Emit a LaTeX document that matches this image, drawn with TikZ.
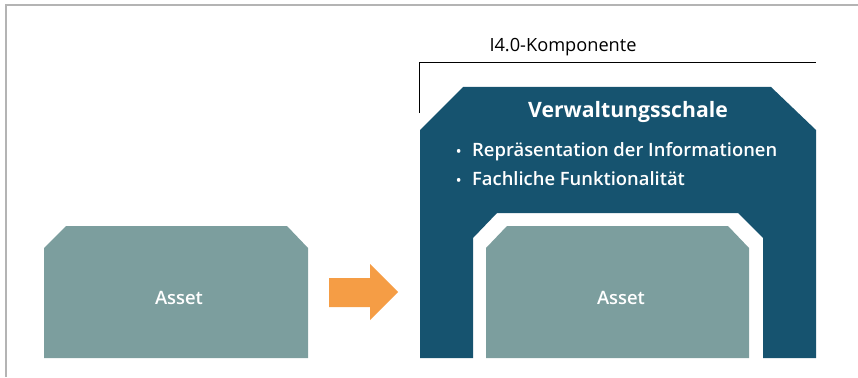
\documentclass[tikz,border=0pt]{standalone}
\usepackage{fontspec}
\setmainfont{Open Sans}
\IfFontExistsTF{Open Sans SemiBold}
  {\newfontfamily\semifont{Open Sans SemiBold}}
  {\IfFontExistsTF{Open Sans Semibold}
    {\newfontfamily\semifont{Open Sans Semibold}}
    {\newfontfamily\semifont{Open Sans}}}
\newcommand{\smallbullet}{\makebox[16pt][l]{\fontsize{14}{14}\selectfont\textbullet}}
\definecolor{shell}{HTML}{16536F}
\definecolor{assetc}{HTML}{7C9E9E}
\definecolor{arrowc}{HTML}{F59D45}
\definecolor{framec}{HTML}{B4B4B4}
\begin{document}
\begin{tikzpicture}[x=1pt,y=-1pt,
  whitetext/.style={text=white,inner sep=0pt,anchor=center},
  semi/.style={font=\semifont\fontsize{18.4}{22}\selectfont},
  lbl/.style={font=\fontsize{18.2}{22}\selectfont,inner sep=0pt}]
\useasboundingbox (0,0) rectangle (858,377);
% frame (top and left only)
\draw[framec,line width=2pt] (6,377) -- (6,5) -- (858,5);

% bracket for the component
\coordinate (bl) at (419.5,113);
\coordinate (bc) at (419.5,62);
\coordinate (br) at (816,62);
\draw[black,line width=0.8pt] (bl) -- (bc) -- (br);
\node[lbl,anchor=center] (komp) at (563,47) {I4.0-Komponente};

% administration shell
\fill[shell] (420,358) -- (420,130) -- (463,87) -- (771,87) -- (816,130) -- (816,358)
  -- (763,358) -- (763,238) -- (738,213) -- (497,213) -- (473,238) -- (473,358) -- cycle;
\node[whitetext,font=\bfseries\fontsize{21.2}{25}\selectfont] (vws) at (628,112) {Verwaltungsschale};
\node[whitetext,semi,anchor=west] (b1) at (456,152) {\smallbullet Repräsentation der Informationen};
\node[whitetext,semi,anchor=west] (b2) at (456,179) {\smallbullet Fachliche Funktionalität};

% inner asset
\fill[assetc] (486,358) -- (486,248) -- (507,226) -- (728,226) -- (749,248) -- (749,358) -- cycle;
\node[whitetext,semi] (a2) at (621,298) {Asset};

% left asset
\fill[assetc] (44,358) -- (44,248) -- (66,226) -- (287,226) -- (308,248) -- (308,358) -- cycle;
\node[whitetext,semi] (a1) at (179,298) {Asset};

% transition arrow
\fill[arrowc] (329,278) -- (370,278) -- (370,264) -- (398,292) -- (370,320) -- (370,307) -- (329,307) -- cycle;
\end{tikzpicture}
\end{document}
